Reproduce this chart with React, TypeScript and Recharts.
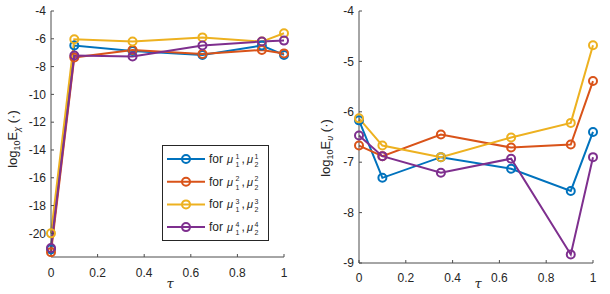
import React from 'react';
import { LineChart, Line, XAxis, YAxis, Legend } from 'recharts';

const TAU = [0, 0.1, 0.35, 0.65, 0.905, 1];
const X_TICKS = [0, 0.2, 0.4, 0.6, 0.8, 1];

const CHI_S1 = [-21.15, -6.48, -6.87, -7.16, -6.48, -7.16];
const CHI_S2 = [-21.35, -7.34, -6.8, -7.1, -6.8, -7.05];
const CHI_S3 = [-20.0, -6.03, -6.2, -5.9, -6.2, -5.6];
const CHI_S4 = [-21.05, -7.2, -7.28, -6.48, -6.2, -6.13];
const CHI_TICKS = [-20, -18, -16, -14, -12, -10, -8, -6, -4];
const CHI_DOMAIN: [number, number] = [-21.7, -4];

const V_S1 = [-6.17, -7.31, -6.9, -7.13, -7.57, -6.4];
const V_S2 = [-6.67, -6.88, -6.45, -6.71, -6.65, -5.39];
const V_S3 = [-6.13, -6.67, -6.9, -6.51, -6.22, -4.68];
const V_S4 = [-6.47, -6.88, -7.21, -6.93, -8.83, -6.9];
const V_TICKS = [-9, -8, -7, -6, -5, -4];
const V_DOMAIN: [number, number] = [-9, -4];

const SERIES_KEYS = ['s1', 's2', 's3', 's4'];
const SERIES_COLORS = ['#0072BD', '#D95319', '#EDB120', '#7E2F8E'];
const SERIES_LABELS = ['1', '2', '3', '4'];

const chiData = TAU.map((t, i) => ({ tau: t, s1: CHI_S1[i], s2: CHI_S2[i], s3: CHI_S3[i], s4: CHI_S4[i] }));
const vData = TAU.map((t, i) => ({ tau: t, s1: V_S1[i], s2: V_S2[i], s3: V_S3[i], s4: V_S4[i] }));

const AXIS_COLOR = '#4d4d4d';
const TEXT_COLOR = '#262626';
const FONT = '"Liberation Sans", Arial, Helvetica, sans-serif';

const tickStyle = { fill: TEXT_COLOR, fontSize: 12, fontFamily: FONT };

function YLabel({ x, y, sub }: { x: number; y: number; sub: string }) {
  return (
    <text transform={`translate(${x},${y}) rotate(-90)`} textAnchor="middle" fontSize={13} fill={TEXT_COLOR} fontFamily={FONT}>
      log
      <tspan fontSize={9} dy={3}>10</tspan>
      <tspan fontSize={13} dy={-3}>E</tspan>
      <tspan fontSize={9} dy={3} fontStyle="italic">{sub}</tspan>
      <tspan fontSize={13} dy={-3}> (·)</tspan>
    </text>
  );
}

function TauLabel({ x, y }: { x: number; y: number }) {
  return (
    <text x={x} y={y} textAnchor="middle" fontSize={13} fontStyle="italic" fill={TEXT_COLOR} fontFamily="'DejaVu Serif', serif">
      τ
    </text>
  );
}

function LegendBox() {
  return (
    <svg width={107} height={96} style={{ display: 'block' }}>
      <rect x={0.5} y={0.5} width={106} height={95} fill="#fff" stroke="#262626" strokeWidth={1} />
      {SERIES_LABELS.map((k, i) => {
        const cy = 14 + i * 22.7;
        const c = SERIES_COLORS[i];
        const common = { fill: TEXT_COLOR, fontFamily: FONT };
        return (
          <g key={k}>
            <line x1={5} x2={43} y1={cy} y2={cy} stroke={c} strokeWidth={2} />
            <circle cx={24} cy={cy} r={4} fill="none" stroke={c} strokeWidth={2} />
            <text x={47} y={cy + 4} fontSize={12} {...common}>for</text>
            <text x={65} y={cy + 4} fontSize={11} fontStyle="italic" {...common}>μ</text>
            <text x={73.5} y={cy - 0.5} fontSize={7} {...common}>{k}</text>
            <text x={73.5} y={cy + 8} fontSize={7} {...common}>1</text>
            <text x={79.5} y={cy + 4} fontSize={12} {...common}>,</text>
            <text x={85} y={cy + 4} fontSize={11} fontStyle="italic" {...common}>μ</text>
            <text x={92.5} y={cy - 0.5} fontSize={7} {...common}>{k}</text>
            <text x={92.5} y={cy + 8} fontSize={7} {...common}>2</text>
          </g>
        );
      })}
    </svg>
  );
}

function renderLines() {
  return SERIES_KEYS.map((key, i) => (
    <Line
      key={key}
      xAxisId="main"
      yAxisId="main"
      type="linear"
      dataKey={key}
      stroke={SERIES_COLORS[i]}
      strokeWidth={2}
      dot={{ r: 4, stroke: SERIES_COLORS[i], strokeWidth: 2, fill: 'none' }}
      activeDot={false}
      isAnimationActive={false}
    />
  ));
}

function Panel({
  data,
  domain,
  ticks,
  margin,
  yWidth,
  xHeight,
  xMargin,
  sub,
  labelPos,
  tauPos,
  withLegend,
}: any) {
  return (
    <LineChart width={305} height={294} data={data} margin={margin}>
      <XAxis
        xAxisId="top"
        orientation="top"
        mirror
        dataKey="tau"
        type="number"
        domain={[0, 1]}
        ticks={X_TICKS}
        tick={false}
        tickSize={3}
        height={0}
        stroke={AXIS_COLOR}
      />
      <YAxis
        yAxisId="right"
        orientation="right"
        mirror
        type="number"
        domain={domain}
        ticks={ticks}
        tick={false}
        tickSize={3}
        width={0}
        stroke={AXIS_COLOR}
        allowDataOverflow
      />
      <XAxis
        xAxisId="main"
        dataKey="tau"
        type="number"
        domain={[0, 1]}
        ticks={X_TICKS}
        interval={0}
        tickSize={-3}
        tickMargin={xMargin}
        height={xHeight}
        stroke={AXIS_COLOR}
        tick={tickStyle}
        label={{ content: () => <TauLabel x={tauPos[0]} y={tauPos[1]} /> }}
      />
      <YAxis
        yAxisId="main"
        type="number"
        domain={domain}
        ticks={ticks}
        interval={0}
        tickSize={-3}
        tickMargin={8}
        width={yWidth}
        stroke={AXIS_COLOR}
        tick={tickStyle}
        allowDataOverflow
        label={{ content: () => <YLabel x={labelPos[0]} y={labelPos[1]} sub={sub} /> }}
      />
      {renderLines()}
      {withLegend && (
        <Legend
          layout="vertical"
          align="center"
          verticalAlign="middle"
          content={() => <LegendBox />}
          wrapperStyle={{ left: 162, top: 145, width: 107, height: 96 }}
        />
      )}
    </LineChart>
  );
}

export default function App() {
  return (
    <div style={{ position: 'absolute', left: 0, top: 0, width: 610, height: 294, background: '#fff' }}>
      <div style={{ position: 'absolute', left: 0, top: 0 }}>
        <Panel
          data={chiData}
          domain={CHI_DOMAIN}
          ticks={CHI_TICKS}
          margin={{ top: 11, right: 21, bottom: 0, left: 0 }}
          yWidth={51}
          xHeight={37}
          xMargin={14}
          sub="χ"
          labelPos={[17, 139]}
          tauPos={[170, 288]}
          withLegend
        />
      </div>
      <div style={{ position: 'absolute', left: 305, top: 0 }}>
        <Panel
          data={vData}
          domain={V_DOMAIN}
          ticks={V_TICKS}
          margin={{ top: 11, right: 17, bottom: 0, left: 0 }}
          yWidth={54}
          xHeight={31}
          xMargin={13}
          sub="υ"
          labelPos={[25, 148]}
          tauPos={[173, 288]}
          withLegend={false}
        />
      </div>
    </div>
  );
}
